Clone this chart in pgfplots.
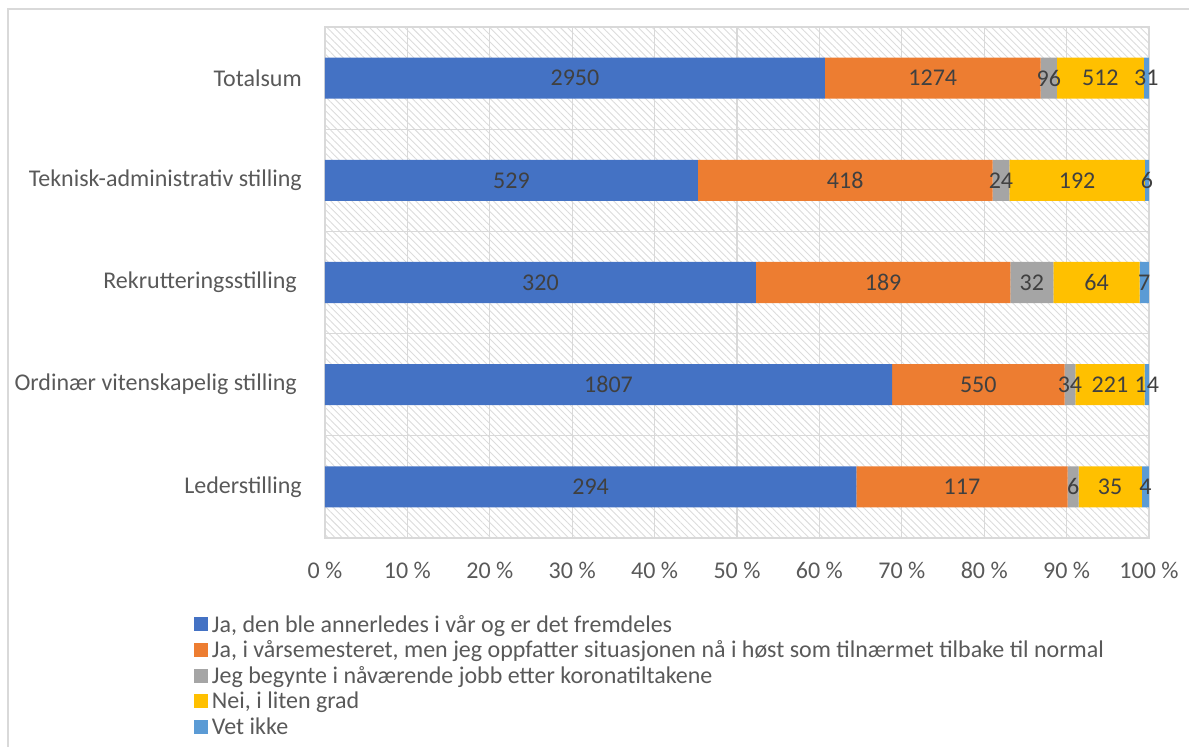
\documentclass[border=0pt]{standalone}
\usepackage{pgfplots}
\pgfplotsset{compat=1.18}
\usepackage{pgfplotstable}
\usetikzlibrary{patterns.meta}
\usepackage{fontspec}
\setmainfont{Carlito}
\newcommand\fs{\fontsize{24pt}{28pt}\selectfont}
\definecolor{cA}{HTML}{4472C4}
\definecolor{cB}{HTML}{ED7D31}
\definecolor{cC}{HTML}{A5A5A5}
\definecolor{cD}{HTML}{FFC000}
\definecolor{cE}{HTML}{5B9BD5}
\definecolor{gridc}{HTML}{D9D9D9}
\definecolor{hatch}{HTML}{DCDCDC}
\definecolor{txt}{HTML}{595959}
\definecolor{lbl}{HTML}{404040}

% percent of row total (x), category index (y), count (c)
\pgfplotstableread{
x y c
64.474 0 294
68.812 1 1807
52.288 2 320
45.252 3 529
60.662 4 2950
}\tA
\pgfplotstableread{
x y c
25.658 0 117
20.944 1 550
30.882 2 189
35.757 3 418
26.198 4 1274
}\tB
\pgfplotstableread{
x y c
1.316 0 6
1.295 1 34
5.229 2 32
2.053 3 24
1.974 4 96
}\tC
\pgfplotstableread{
x y c
7.675 0 35
8.416 1 221
10.458 2 64
16.424 3 192
10.528 4 512
}\tD
\pgfplotstableread{
x y c
0.876 0 4
0.532 1 14
1.142 2 7
0.513 3 6
0.637 4 31
}\tE

\begin{document}
\begin{tikzpicture}
\useasboundingbox (0,0) rectangle (1189pt,747pt);
\draw[gridc, line width=1.5pt] (8pt,-20pt) -- (8pt,738pt) -- (1220pt,738pt);
\begin{axis}[
  at={(325pt,209pt)}, anchor=south west,
  scale only axis, width=824pt, height=511pt,
  xbar stacked, bar width=41pt,
  xmin=0, xmax=100, ymin=-0.5, ymax=4.5,
  xtick={0,10,20,30,40,50,60,70,80,90,100},
  xticklabels={0 \%,10 \%,20 \%,30 \%,40 \%,50 \%,60 \%,70 \%,80 \%,90 \%,100 \%},
  ytick={0,1,2,3,4},
  yticklabels={Lederstilling,Ordinær vitenskapelig stilling\hspace*{5pt},Rekrutteringsstilling\hspace*{5pt},Teknisk-administrativ stilling,Totalsum},
  minor ytick={-0.5,0.5,1.5,2.5,3.5,4.5},
  xmajorgrids, yminorgrids,
  major grid style={gridc, line width=1.2pt},
  minor grid style={gridc, line width=1.2pt},
  major tick length=0pt, minor tick length=0pt,
  axis line style={gridc, line width=1.2pt},
  axis background/.style={pattern={Lines[angle=-45,distance=5pt,line width=0.9pt]}, pattern color=hatch},
  tick label style={font=\fs, text=txt, inner sep=0pt},
  xticklabel shift=24pt, yticklabel shift=23pt,
  point meta=explicit symbolic,
  nodes near coords,
  nodes near coords style={font=\fs, text=lbl, anchor=center, inner sep=0pt},
  legend cell align=left,
  legend style={draw=none, fill=none, at={(axis description cs:-0.159,-0.147)}, anchor=north west,
    inner sep=0pt, outer sep=0pt, row sep=0pt, column sep=4pt, font=\fs, text=txt,
    nodes={inner sep=0pt, text height=19pt, text depth=6.6pt}},
  legend image code/.code={\fill[#1, draw=none] (0pt,-5.5pt) rectangle (14pt,8.5pt);},
]
\addplot[fill=cA, draw=none] table[x=x,y=y,meta=c]{\tA};
\addlegendentry{Ja, den ble annerledes i vår og er det fremdeles}
\addplot[fill=cB, draw=none] table[x=x,y=y,meta=c]{\tB};
\addlegendentry{Ja, i vårsemesteret, men jeg oppfatter situasjonen nå i høst som tilnærmet tilbake til normal}
\addplot[fill=cC, draw=none] table[x=x,y=y,meta=c]{\tC};
\addlegendentry{Jeg begynte i nåværende jobb etter koronatiltakene}
\addplot[fill=cD, draw=none] table[x=x,y=y,meta=c]{\tD};
\addlegendentry{Nei, i liten grad}
\addplot[fill=cE, draw=none] table[x=x,y=y,meta=c]{\tE};
\addlegendentry{Vet ikke}
\end{axis}
\end{tikzpicture}
\end{document}
